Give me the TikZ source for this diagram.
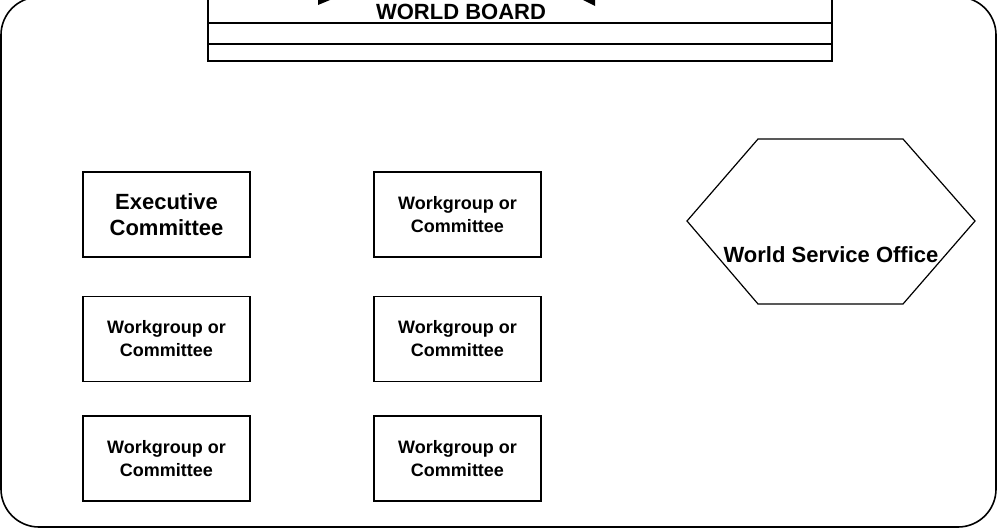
\documentclass[tikz,border=0pt]{standalone}
\usepackage{fontspec}
\setmainfont{Liberation Sans}

\tikzset{
  wgbox/.style={draw, line width=1.2pt, minimum width=167pt, minimum height=85pt,
    align=center, inner sep=0pt, font=\fontsize{18}{23}\selectfont\bfseries},
  bigtext/.style={font=\fontsize{22}{25.5}\selectfont\bfseries, align=center, inner sep=0pt}
}

\begin{document}
\begin{tikzpicture}[x=1pt,y=-1pt]
			\useasboundingbox (0,0) rectangle (998,530);
			% outer frame
			\draw[line width=1.6pt, rounded corners=38pt] (1,-3) rectangle (996,527);
			% world board
			\draw[line width=1.6pt] (208,-5) rectangle (832,61);
			\draw[line width=1.6pt] (208,23) -- (832,23);
			\draw[line width=1.6pt] (208,44) -- (832,44);
			\fill (318,0) -- (330,0) -- (318,5) -- cycle;
			\fill (583,0) -- (595,0) -- (595,6) -- cycle;
			\node[bigtext, anchor=base] (wb) at (461,19) {WORLD BOARD};
			% committees
			\node[wgbox, font=\fontsize{22}{25.5}\selectfont\bfseries] (exec) at (166.5,214.5) {Executive\\Committee};
			\node[wgbox] (wg1) at (457.5,214.5) {Workgroup or\\Committee};
			\node[wgbox] (wg2) at (166.5,339) {Workgroup or\\Committee};
			\node[wgbox] (wg3) at (457.5,339) {Workgroup or\\Committee};
			\node[wgbox] (wg4) at (166.5,458.5) {Workgroup or\\Committee};
			\node[wgbox] (wg5) at (457.5,458.5) {Workgroup or\\Committee};
			% office
			\draw[line width=1.2pt] (687,221) -- (758,139) -- (903,139) -- (975,221) -- (903,304) -- (758,304) -- cycle;
			\node[bigtext] (wso) at (831,255) {World Service Office};
		\end{tikzpicture}
\end{document}
